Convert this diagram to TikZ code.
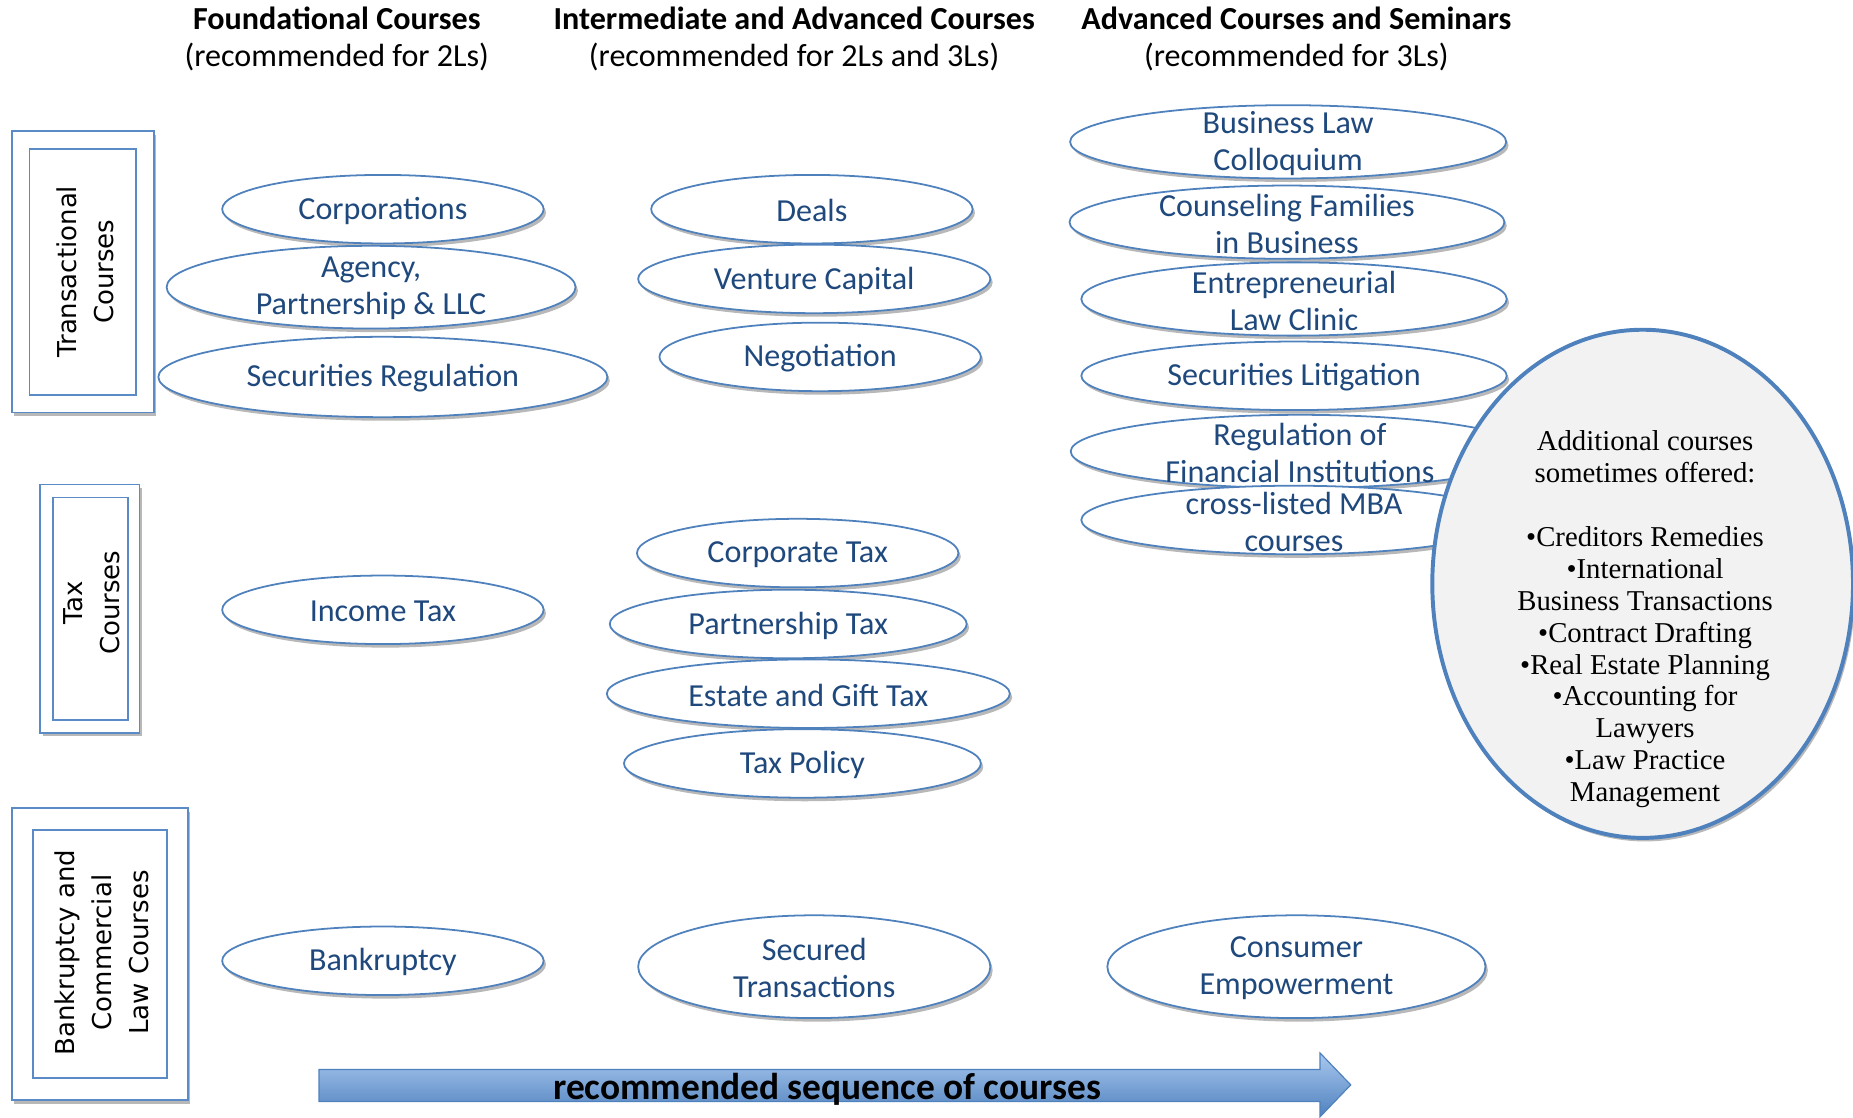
\documentclass[tikz,border=0pt]{standalone}
\usepackage{fontspec}
\setmainfont{Carlito}
\newfontfamily\circfont{Liberation Serif}
\newfontfamily\boxfont{DejaVu Sans}
\usetikzlibrary{shapes.geometric,shadows}
\definecolor{ellblue}{HTML}{4F81BD}
\definecolor{txtblue}{HTML}{1F497D}
\definecolor{boxblue}{HTML}{5B8BC6}
\definecolor{circfill}{HTML}{F2F2F2}
\definecolor{arrowtop}{HTML}{A9C8F0}
\definecolor{arrowbot}{HTML}{4F81BD}
\begin{document}
\begin{tikzpicture}[x=0.6pt,y=-0.6pt,
  myshadow/.style={drop shadow={shadow xshift=1.2pt,shadow yshift=-1.8pt,opacity=0.28,fill=black}},
  ell/.style 2 args={ellipse,draw=ellblue,line width=0.9pt,fill=white,
     minimum width={#1*0.6pt},minimum height={#2*0.6pt},inner sep=0pt,myshadow},
  etext/.style={text=txtblue,font=\fontsize{16.3}{18.8}\selectfont,align=center,inner sep=0pt,yshift=-0.8pt},
  head/.style={align=center,font=\fontsize{16.3}{18.6}\selectfont,inner sep=0pt},
  obox/.style={rectangle,draw=boxblue,line width=0.9pt,fill=white,inner sep=0pt,myshadow},
  ibox/.style={rectangle,draw=boxblue,line width=0.9pt,inner sep=0pt},
  btext/.style={rotate=90,align=center,font=\boxfont\fontsize{13.2}{18.8}\selectfont,inner sep=0pt},
  bigcirc/.style={ellipse,draw=ellblue,line width=2pt,fill=circfill,inner sep=0pt,
     minimum width={356*0.6pt},minimum height={430*0.6pt},myshadow},
  ctext/.style={align=center,font=\circfont\fontsize{14.6}{16.2}\selectfont,inner sep=0pt},
  seqtext/.style={font=\bfseries\fontsize{19}{21}\selectfont,inner sep=0pt}
]
\useasboundingbox (0,0) rectangle (1568,946);

% headers
\node[head] (h1) at (285,33) {\textbf{Foundational Courses}\\(recommended for 2Ls)};
\node[head] (h2) at (672,33) {\textbf{Intermediate and Advanced Courses}\\(recommended for 2Ls and 3Ls)};
\node[head] (h3) at (1097,33) {\textbf{Advanced Courses and Seminars}\\(recommended for 3Ls)};

% side boxes
\node[obox,minimum width={120*0.6pt},minimum height={238*0.6pt}] (tro) at (70,230) {};
\node[ibox,minimum width={90*0.6pt},minimum height={208*0.6pt}] (tri) at (70,230) {};
\node[btext] (trt) at (72,230) {Transactional\\Courses};

\node[obox,minimum width={84*0.6pt},minimum height={210*0.6pt}] (taxo) at (76,515) {};
\node[ibox,minimum width={63*0.6pt},minimum height={188*0.6pt}] (taxi) at (76.5,515) {};
\node[btext] (taxt) at (78,510) {Tax\\Courses};

\node[obox,minimum width={149*0.6pt},minimum height={247*0.6pt}] (bko) at (84.5,807.5) {};
\node[ibox,minimum width={113*0.6pt},minimum height={210*0.6pt}] (bki) at (84.5,807) {};
\node[btext] (bkt) at (86,806) {Bankruptcy and\\Commercial\\Law Courses};

% column 1
\node[ell={272}{58},label={[etext]center:Corporations}] (corp) at (324,177) {};
\node[ell={346}{70},label={[etext]center:{Agency,\\Partnership \& LLC}}] (agency) at (314,243) {};
\node[ell={380}{68},label={[etext]center:Securities Regulation}] (secreg) at (324,319) {};
\node[ell={272}{58},label={[etext]center:Income Tax}] (inctax) at (324,516) {};
\node[ell={272}{58},label={[etext]center:Bankruptcy}] (bankr) at (324,813) {};

% column 2
\node[ell={272}{58},label={[etext]center:Deals}] (deals) at (687,177) {};
\node[ell={298}{58},label={[etext]center:Venture Capital}] (vc) at (689,236) {};
\node[ell={272}{58},label={[etext]center:Negotiation}] (nego) at (694,302) {};
\node[ell={272}{58},label={[etext]center:Corporate Tax}] (corptax) at (675,468) {};
\node[ell={302}{58},label={[etext]center:Partnership Tax}] (parttax) at (667,528) {};
\node[ell={341}{58},label={[etext]center:Estate and Gift Tax}] (estate) at (684,587) {};
\node[ell={302}{58},label={[etext]center:Tax Policy}] (taxpol) at (679,646) {};
\node[ell={298}{87},label={[etext]center:{Secured\\Transactions}}] (secured) at (689,818) {};

% column 3
\node[ell={369}{62},label={[etext]center:{Business Law\\Colloquium}}] (blc) at (1090,120) {};
\node[ell={368}{62},label={[etext]center:{Counseling Families\\in Business}}] (cfb) at (1089,188) {};
\node[ell={360}{62},label={[etext]center:{Entrepreneurial\\Law Clinic}}] (elc) at (1095,253) {};
\node[ell={360}{58},label={[etext]center:Securities Litigation}] (seclit) at (1095,318) {};
\node[ell={388}{62},label={[etext]center:{Regulation of\\Financial Institutions}}] (rfi) at (1100,382) {};
\node[ell={360}{58},label={[etext]center:{cross-listed MBA\\courses}}] (mba) at (1095,440) {};
\node[ell={320}{87},label={[etext]center:{Consumer\\Empowerment}}] (consumer) at (1097,818) {};

% additional courses
\node[bigcirc] (addl) at (1390,494) {};
\node[ctext] (addlt) at (1392,524) {Additional courses\\sometimes offered:\\\strut\\%
•Creditors Remedies\\•International\\Business Transactions\\•Contract Drafting\\%
•Real Estate Planning\\•Accounting for\\Lawyers\\•Law Practice\\Management};

% sequence arrow
\path[draw=ellblue,line width=0.6pt,top color=arrowtop,bottom color=arrowbot]
  (270,905) -- (1117,905) -- (1117,891) -- (1143,918) -- (1117,945) -- (1117,932) -- (270,932) -- cycle;
\node[seqtext] (seq) at (700,922) {recommended sequence of courses};
\end{tikzpicture}
\end{document}
